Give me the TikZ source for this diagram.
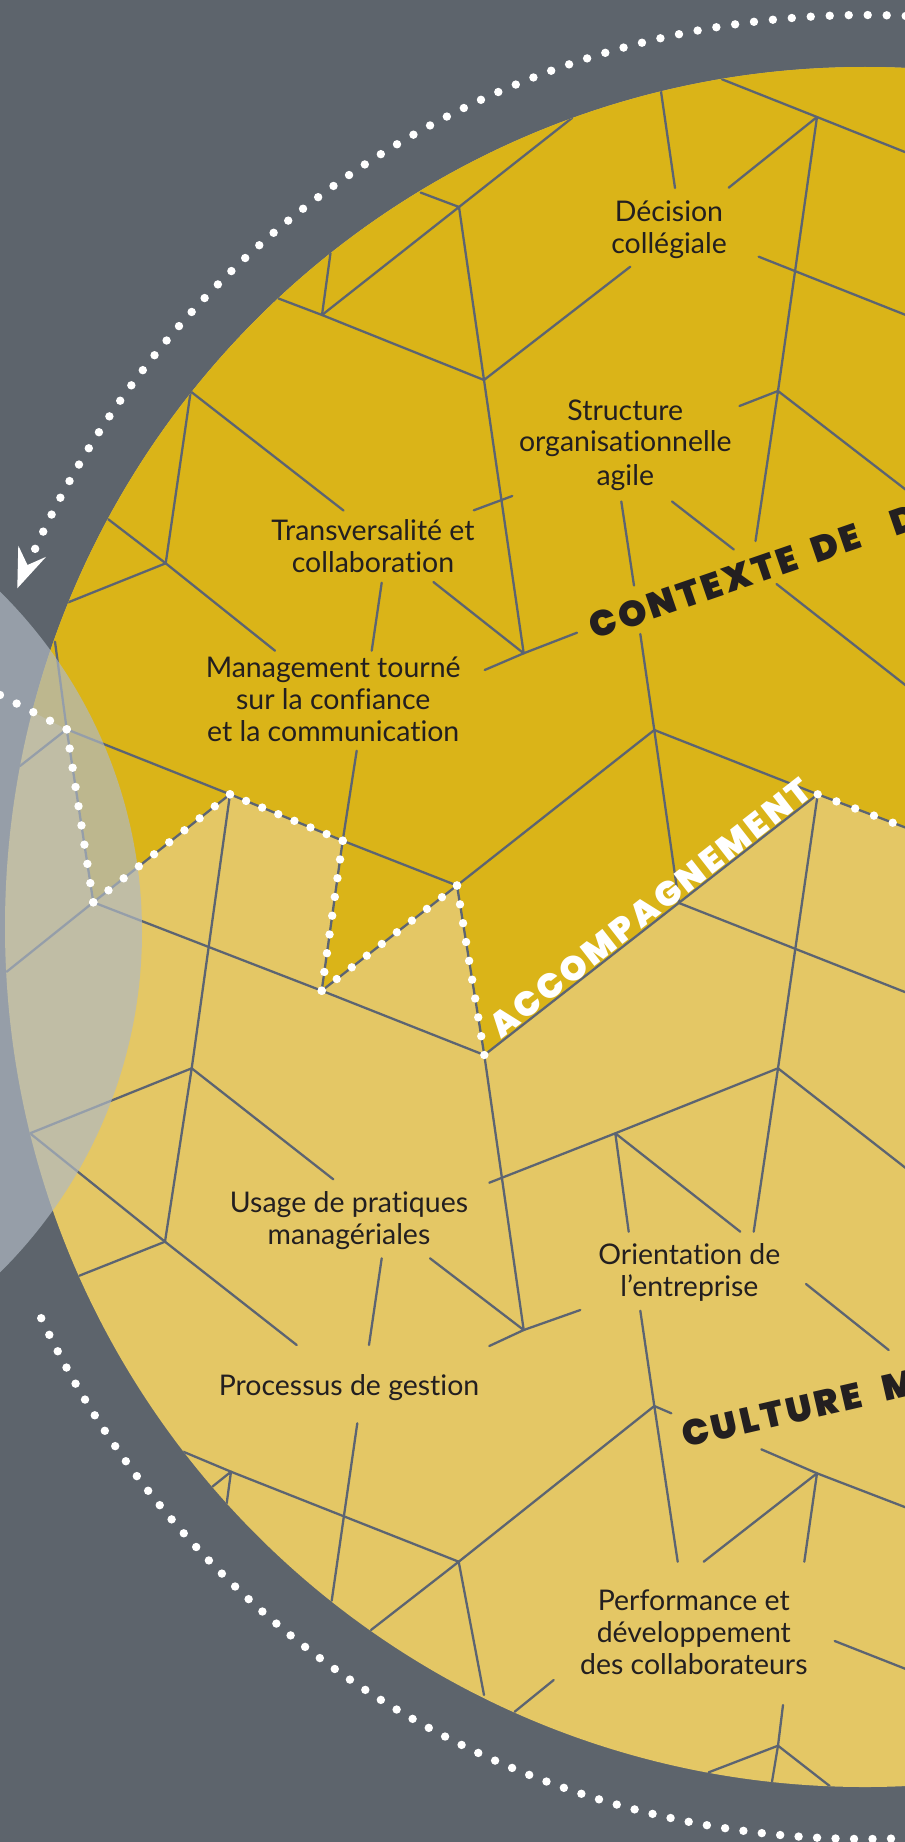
\documentclass[tikz,border=0pt]{standalone}
\usepackage{fontspec}
\usetikzlibrary{calc}
\setmainfont{Lato}[Ligatures=NoCommon]
\IfFontExistsTF{Poppins Black}
  {\newfontfamily\heavyfont{Poppins Black}[LetterSpace=9]}
  {\IfFontExistsTF{Poppins ExtraBold}
    {\newfontfamily\heavyfont{Poppins ExtraBold}[LetterSpace=9]}
    {\IfFontExistsTF{Lato Black}
      {\newfontfamily\heavyfont{Lato Black}[LetterSpace=9]}
      {\IfFontExistsTF{Fira Sans Black}
        {\newfontfamily\heavyfont{Fira Sans Black}[LetterSpace=9]}
        {\newfontfamily\heavybase{Poppins}[LetterSpace=9]%
         \newcommand\heavyfont{\heavybase\bfseries}}}}}

\definecolor{bgslate}{HTML}{5D646C}
\definecolor{ochre}{HTML}{DAB418}
\definecolor{sand}{HTML}{E4C765}
\definecolor{web}{HTML}{5C6472}
\definecolor{ink}{HTML}{231F20}
\definecolor{mist}{RGB}{176,185,195}

% white dots spread evenly from #1 to #2, #3 intervals
\newcommand{\zigdots}[3]{%
  \foreach \k in {0,...,#3}{%
    \pgfmathsetmacro\zfrac{\k/#3}%
    \fill[white] ($(#1)!\zfrac!(#2)$) circle (4.2);}}

\tikzset{
  net/.style={draw=web, line width=1.3pt, line cap=round, line join=round},
  lbl/.style={font=\fontsize{16.2}{19}\selectfont, text=ink, inner sep=0pt, anchor=base},
  heavy/.style={font=\heavyfont\fontsize{20.5}{22}\selectfont, inner sep=0pt, anchor=base west},
}

\begin{document}
\begin{tikzpicture}[x=0.02cm, y=-0.02cm]
\useasboundingbox (0,0) rectangle (905,1842);
\clip (0,0) rectangle (905,1842);

% ---------- junctions of the network ----------
\coordinate (N1) at (459,207);     \coordinate (N2) at (484,380);
\coordinate (N3) at (322,315);     \coordinate (N4) at (817,117);
\coordinate (N5) at (778,391);     \coordinate (N6) at (523.7,653.3);
\coordinate (N7) at (165.7,563.3); \coordinate (N8) at (654.3,730);
\coordinate (N9) at (679,903);     \coordinate (N10) at (778,1068.3);
\coordinate (N11) at (615.3,1133.3); \coordinate (N12) at (523.7,1330);
\coordinate (N13) at (654.3,1406); \coordinate (N14) at (458.7,1561.7);
\coordinate (N15) at (231,1471.7); \coordinate (N16) at (817,1473.3);
\coordinate (N17) at (778,1745.7); \coordinate (N18) at (165,1241.7);
\coordinate (N19) at (191.7,1068.3); \coordinate (N20) at (30,1133.3);
\coordinate (N21) at (190.7,391.5);
% corners of the dotted frontier
\coordinate (V1) at (66.7,729.3);  \coordinate (V2) at (93.3,902.3);
\coordinate (V3) at (230,794.3);   \coordinate (V4) at (342.7,840.7);
\coordinate (V5) at (321.7,990.7); \coordinate (V6) at (457,885.5);
\coordinate (V7) at (484.3,1055);  \coordinate (V8) at (817.7,794.3);
% free ends
\coordinate (e1) at (572,118);     \coordinate (e2) at (420.7,192.6);
\coordinate (e3) at (330.5,253);   \coordinate (e4) at (278.5,298.5);
\coordinate (e5) at (630.3,266.7);
\coordinate (e6a) at (661,91.5);   \coordinate (e6b) at (675,188);
\coordinate (e7) at (722,79.3);    \coordinate (e8) at (930,162);
\coordinate (e9) at (728.7,187.7);
\coordinate (e10a) at (758.7,256.7); \coordinate (e10b) at (930,324.6);
\coordinate (e11) at (739.5,406);  \coordinate (e12) at (930,508.4);
\coordinate (e13) at (755.5,541);
\coordinate (e14a) at (473.8,510.3); \coordinate (e14b) at (512.3,496);
\coordinate (e15) at (484.7,670);  \coordinate (e16) at (577,632.7);
\coordinate (e17) at (433.4,582);
\coordinate (e18a) at (621.3,501.5); \coordinate (e18b) at (634,585.5);
\coordinate (e19a) at (672,501.5); \coordinate (e19b) at (733.8,549.5);
\coordinate (e20a) at (776.5,584); \coordinate (e20b) at (930,704.4);
\coordinate (e21) at (640.3,634);  \coordinate (e22) at (930,1001.9);
\coordinate (e23) at (489.3,1182.7); \coordinate (e24) at (930,1187);
\coordinate (e25) at (753.7,1231.7); \coordinate (e26) at (628.7,1231.7);
\coordinate (e27) at (740.3,1231.7); \coordinate (e28) at (489.3,1346);
\coordinate (e29) at (580.3,1310); \coordinate (e30) at (430,1258.3);
\coordinate (e31) at (640.3,1310.7);
\coordinate (e32a) at (806,1284);  \coordinate (e32b) at (888.7,1350);
\coordinate (e33) at (671.3,1413.3); \coordinate (e34) at (677.7,1561.7);
\coordinate (e35) at (183.3,1451.7); \coordinate (e36) at (212.3,1486.7);
\coordinate (e37) at (226.7,1503.3);
\coordinate (e38a) at (357.3,1423.3); \coordinate (e38b) at (331.7,1600.7);
\coordinate (e39) at (371,1630);   \coordinate (e40) at (484,1695);
\coordinate (e41a) at (553.7,1680); \coordinate (e41b) at (514.7,1711.7);
\coordinate (e42) at (761.3,1449.3); \coordinate (e43) at (930,1516.7);
\coordinate (e44) at (703.7,1561.7); \coordinate (e45) at (804.3,1561.7);
\coordinate (e46a) at (834.7,1641); \coordinate (e46b) at (930,1678.5);
\coordinate (e47) at (783,1705);   \coordinate (e48) at (708.7,1772.3);
\coordinate (e49) at (772,1781.7); \coordinate (e50) at (829.7,1786);
\coordinate (e51) at (343.5,510.5); \coordinate (e52) at (108.3,519.3);
\coordinate (e53) at (68.3,602.3); \coordinate (e54) at (275,650.7);
\coordinate (e55a) at (381.7,582.7); \coordinate (e55b) at (371.7,650.7);
\coordinate (e56) at (356.7,750.7); \coordinate (e57) at (55,641.7);
\coordinate (e58) at (20,766);     \coordinate (e59) at (6.7,971.7);
\coordinate (e60) at (333.3,1179.3); \coordinate (e61) at (79.3,1275.7);
\coordinate (e62) at (296.7,1345);
\coordinate (e63a) at (381.7,1258.3); \coordinate (e63b) at (369,1345);
\coordinate (e64) at (930.2,836.9); \coordinate (e65) at (-16.7,686.4);

% ---------- background and disc ----------
\fill[bgslate] (0,0) rectangle (905,1842);
\fill[sand] (865,927) circle (860);
\begin{scope}
  \clip (865,927) circle (860);
  \fill[ochre] (-100,643.6) -- (-100,-50) -- (1000,-50) -- (1000,863.4)
    -- (V8) -- (V7) -- (V6) -- (V5) -- (V4) -- (V3) -- (V2) -- (V1) -- cycle;

  % ---------- network ----------
  \draw[net] (e1) -- (N1) -- (N2);
  \draw[net] (e2) -- (N1) -- (N3) -- (N2) -- (e5);
  \draw[net] (e3) -- (N3) -- (e4);
  \draw[net] (e6a) -- (e6b);
  \draw[net] (e7) -- (N4) -- (e8);
  \draw[net] (e9) -- (N4) -- (N5);
  \draw[net] (e10a) -- (e10b);
  \draw[net] (e11) -- (N5) -- (e12);
  \draw[net] (N5) -- (e13);
  \draw[net] (N2) -- (N6);
  \draw[net] (e14a) -- (e14b);
  \draw[net] (e15) -- (N6) -- (e16);
  \draw[net] (e17) -- (N6);
  \draw[net] (e18a) -- (e18b);
  \draw[net] (e19a) -- (e19b);
  \draw[net] (e20a) -- (e20b);
  \draw[net] (e21) -- (N8) -- (N9);
  \draw[net] (V6) -- (N8) -- (V8);
  \draw[net] (N9) -- (e22);
  \draw[net] (V8) -- (N10) -- (N11) -- (e23);
  \draw[net] (N10) -- (e24);
  \draw[net] (N10) -- (e25);
  \draw[net] (e26) -- (N11) -- (e27);
  \draw[net] (V7) -- (N12) -- (e28);
  \draw[net] (e30) -- (N12) -- (e29);
  \draw[net] (e31) -- (N13) -- (e33);
  \draw[net] (N13) -- (e34);
  \draw[net] (N13) -- (N14);
  \draw[net] (e32a) -- (e32b);
  \draw[net] (e35) -- (N15) -- (N14);
  \draw[net] (e36) -- (N15) -- (e37);
  \draw[net] (e38a) -- (e38b);
  \draw[net] (e39) -- (N14) -- (e40);
  \draw[net] (e41a) -- (e41b);
  \draw[net] (e42) -- (N16) -- (e43);
  \draw[net] (e44) -- (N16) -- (e45);
  \draw[net] (e46a) -- (e46b);
  \draw[net] (e47) -- (N17) -- (e48);
  \draw[net] (e49) -- (N17) -- (e50);
  \draw[net] (N21) -- (N7);
  \draw[net] (N21) -- (e51);
  \draw[net] (e52) -- (N7) -- (e53);
  \draw[net] (N7) -- (e54);
  \draw[net] (e55a) -- (e55b);
  \draw[net] (e56) -- (V4);
  \draw[net] (e57) -- (V1) -- (e58);
  \draw[net] (V1) -- (V3) -- (N19);
  \draw[net] (V4) -- (V6);
  \draw[net] (e59) -- (V2) -- (V5) -- (V7);
  \draw[net] (N19) -- (N20) -- (N18) -- (N19);
  \draw[net] (N19) -- (e60);
  \draw[net] (e61) -- (N18) -- (e62);
  \draw[net] (e63a) -- (e63b);
  % frontier edges
  \draw[net] (V1) -- (V2) -- (V3) -- (V4) -- (V5) -- (V6) -- (V7) -- (V8) -- (e64);
\end{scope}

% ---------- labels ----------
\node[lbl] (dec1) at (669,221.7) {Décision};
\node[lbl] (dec2) at (669,253.3) {collégiale};
\node[lbl] (str1) at (625.3,420.7) {Structure};
\node[lbl] (str2) at (625.3,451.7) {organisationnelle};
\node[lbl] (str3) at (625.3,485) {agile};
\node[lbl] (tra1) at (373,540) {Transversalité et};
\node[lbl] (tra2) at (373,572) {collaboration};
\node[lbl] (man1) at (333.2,677.3) {Management tourné};
\node[lbl] (man2) at (333.2,709.3) {sur la confiance};
\node[lbl] (man3) at (333.2,741.7) {et la communication};
\node[lbl] (usa1) at (349,1212.7) {Usage de pratiques};
\node[lbl] (usa2) at (349,1244) {managériales};
\node[lbl] (ori1) at (689.4,1264.3) {Orientation de};
\node[lbl] (ori2) at (689.4,1296) {l’entreprise};
\node[lbl] (pro1) at (349,1395) {Processus de gestion};
\node[lbl] (per1) at (693.8,1610.7) {Performance et};
\node[lbl] (per2) at (693.8,1642.7) {développement};
\node[lbl] (per3) at (693.8,1674) {des collaborateurs};

% ---------- section titles ----------
\node[heavy, text=ink, rotate=19] (ctx) at (594,640) {CONTEXTE\hspace{0.2em} DE\hspace{0.95em}D};
\node[heavy, text=white, rotate=38, font=\heavyfont\fontsize{19.5}{22}\selectfont] (acc) at (501,1040) {ACCOMPAGNEMENT};
\node[heavy, text=ink, rotate=13] (cul) at (685,1448) {CULTURE\hspace{0.36em} M};

% ---------- translucent lens on the left ----------
\fill[mist, opacity=0.69] (-337,932) circle (479);

% ---------- dotted frontier ----------
\zigdots{e65}{V1}{5}
\zigdots{V1}{V2}{9}
\zigdots{V2}{V3}{9}
\zigdots{V3}{V4}{7}
\zigdots{V4}{V5}{8}
\zigdots{V5}{V6}{9}
\zigdots{V6}{V7}{9}
\zigdots{V8}{e64}{6}

% ---------- outer dotted arcs and arrow ----------
\foreach \i in {0,...,58}{%
  \pgfmathsetmacro\ang{155.5-1.194*\i}%
  \fill[white] ({865+912*cos(\ang)},{927-912*sin(\ang)}) circle (4.2);}
\foreach \i in {0,...,59}{%
  \pgfmathsetmacro\ang{205.4+1.162*\i}%
  \fill[white] ({865+912*cos(\ang)},{927-912*sin(\ang)}) circle (4.2);}
\coordinate (atip) at (17.3,588.3);
\coordinate (abarbA) at (46.1,556.8);
\coordinate (anotch) at (27.5,565);
\coordinate (abarbB) at (18.3,545.6);
\fill[white] (atip) -- (abarbA) -- (anotch) -- (abarbB) -- cycle;
\end{tikzpicture}
\end{document}
